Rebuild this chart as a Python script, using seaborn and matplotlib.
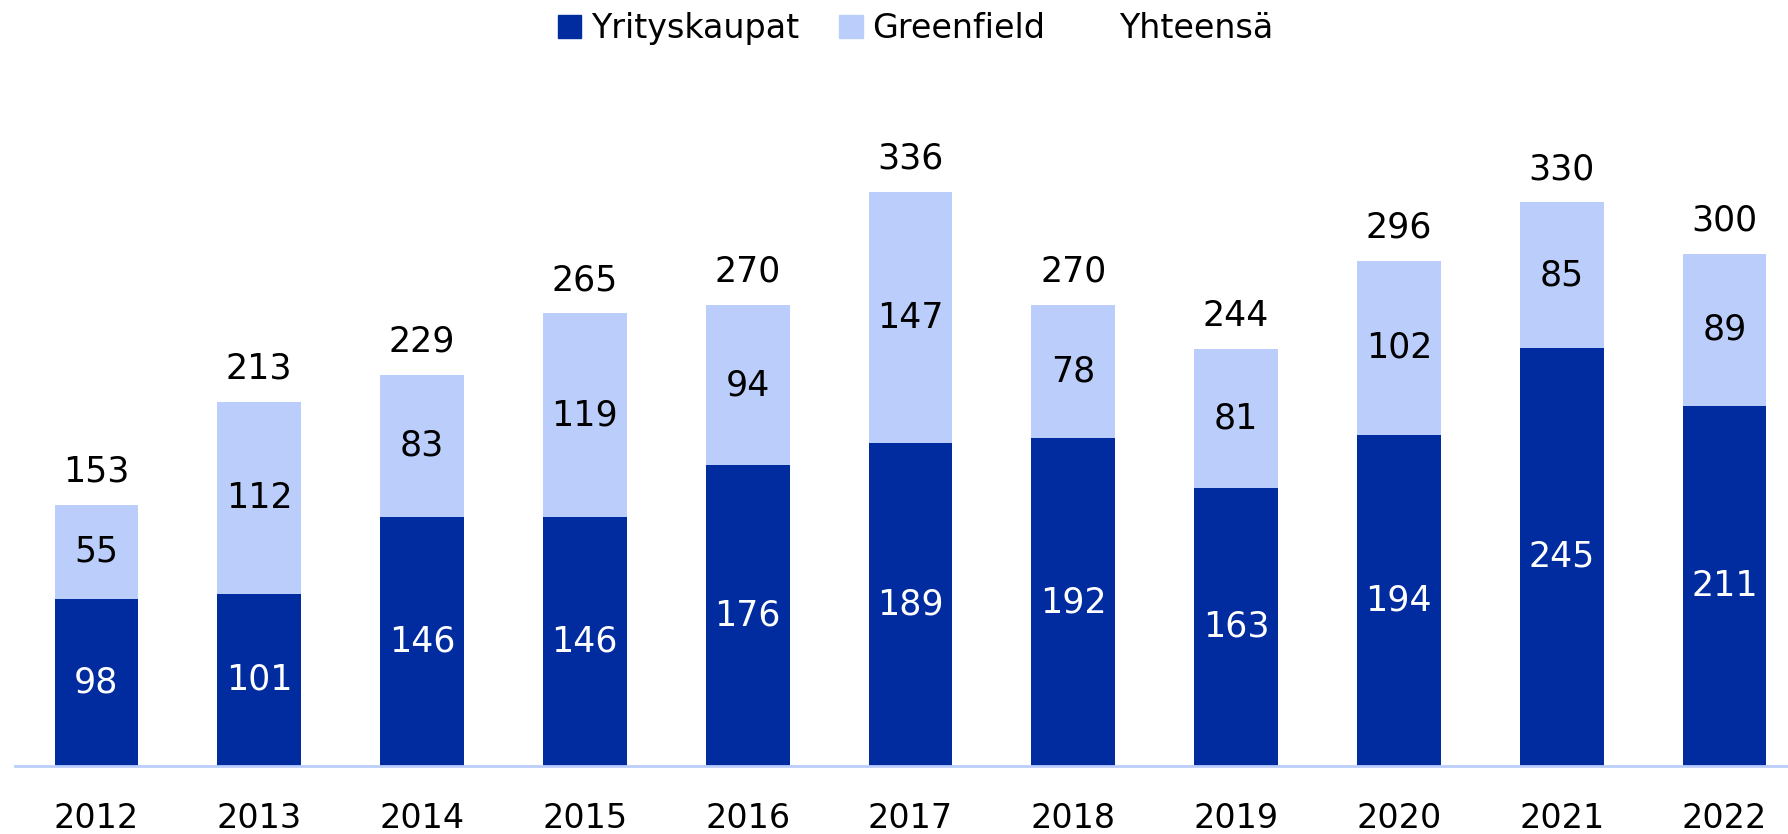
import numpy as np
import pandas as pd
import seaborn as sns
import matplotlib.pyplot as plt
from matplotlib.patches import Patch
from matplotlib.lines import Line2D

# values
years = ['2012', '2013', '2014', '2015', '2016', '2017', '2018', '2019', '2020', '2021', '2022']
yrityskaupat = [98, 101, 146, 146, 176, 189, 192, 163, 194, 245, 211]
greenfield = [55, 112, 83, 119, 94, 147, 78, 81, 102, 85, 89]
yhteensa = [153, 213, 229, 265, 270, 336, 270, 244, 296, 330, 300]

dark_blue = '#002CA0'
light_blue = '#BACDFB'

df = pd.DataFrame({'year': years, 'yrityskaupat': yrityskaupat,
                   'greenfield': greenfield, 'yhteensa': yhteensa})

sns.set_style('white')
plt.rcParams['font.family'] = ['DejaVu Sans']
plt.rcParams['text.color'] = 'black'
plt.rcParams['xtick.color'] = 'black'

fig = plt.figure(figsize=(17.88, 8.34), dpi=100)
ax = fig.add_axes([0.0084, 0.0815, 0.9916, 0.7986])

#total bar drawn in light blue, then the acquisitions part drawn over it
sns.barplot(data=df, x='year', y='yhteensa', color=light_blue, width=0.515,
            saturation=1, linewidth=0, ax=ax)
sns.barplot(data=df, x='year', y='yrityskaupat', color=dark_blue, width=0.515,
            saturation=1, linewidth=0, ax=ax)

for i, row in df.iterrows():
    ax.text(i, row['yrityskaupat'] / 2, str(row['yrityskaupat']), color='white',
            ha='center', va='center', fontsize=25)
    ax.text(i, row['yrityskaupat'] + row['greenfield'] / 2, str(row['greenfield']),
            color='black', ha='center', va='center', fontsize=25)
    ax.annotate(str(row['yhteensa']), (i, row['yhteensa']), xytext=(0, 24),
                textcoords='offset points', ha='center', va='center',
                fontsize=25, color='black')

ax.set_xlim(-0.5, 10.39)
ax.set_ylim(0, 390)
ax.set_xlabel('')
ax.set_ylabel('')
ax.set_yticks([])
ax.tick_params(axis='x', length=0, pad=26, labelsize=24, labelcolor='black')
sns.despine(ax=ax, left=True)
ax.spines['bottom'].set_color(light_blue)
ax.spines['bottom'].set_linewidth(2)

handles = [Patch(color=dark_blue), Patch(color=light_blue),
           Line2D([], [], color='none')]
fig.legend(handles, ['Yrityskaupat', 'Greenfield', 'Yhteensä'], loc='center',
           bbox_to_anchor=(0.512, 0.966), ncol=3, frameon=False, fontsize=24,
           labelcolor='black', handlelength=0.7, handleheight=0.7,
           handletextpad=0.3, columnspacing=1.2)

fig.savefig('out.png', dpi=100)
